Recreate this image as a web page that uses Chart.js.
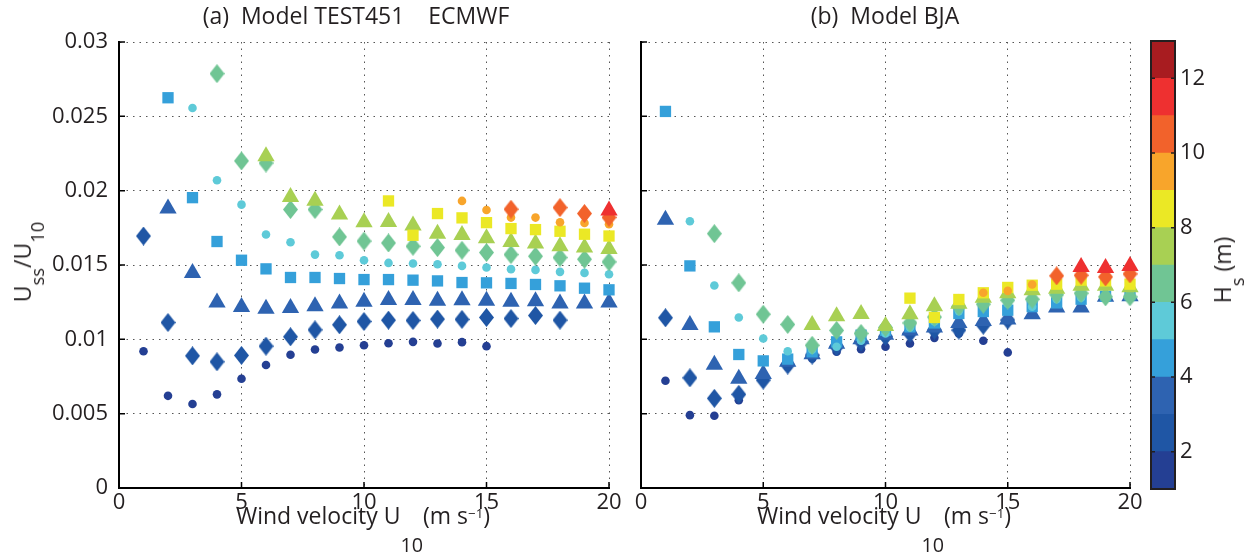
<!DOCTYPE html>
<html>
<head>
<meta charset="utf-8">
<script src="https://cdn.jsdelivr.net/npm/chart.js@4.4.1/dist/chart.umd.min.js"></script>
<style>
  body { margin: 0; background: #fff; }
  #wrap { position: relative; width: 1256px; height: 556px; overflow: hidden; font-family: "Open Sans", sans-serif; color: #231f20; }
  canvas { position: absolute; top: 0; }
  .t { position: absolute; white-space: nowrap; font-size: 23px; line-height: 1; }
  .t sub { font-size: 86%; line-height: 0; }
  .xl sub { vertical-align: -28px; }
  .rot sub { font-size: 80%; vertical-align: -13px; }
  .t sup { font-size: 58%; vertical-align: 6px; line-height: 0; }
  .ctr { transform: translateX(-50%); }
  .rot { transform: translate(-50%, -50%) rotate(-90deg); }
</style>
</head>
<body>
<div id="wrap">
  <canvas id="panelA" width="625" height="556" style="left:0"></canvas>
  <canvas id="panelB" width="540" height="556" style="left:625px"></canvas>
  <canvas id="cbar" width="80" height="556" style="left:1140px"></canvas>

  <div class="t ctr" style="left:356px;top:4px">(a)&nbsp; Model TEST451 &nbsp;&nbsp; ECMWF</div>
  <div class="t ctr" style="left:885px;top:4px">(b)&nbsp; Model BJA</div>
  <div class="t ctr xl" style="left:363px;top:504px">Wind velocity U<sub>10</sub>(m s<sup>&minus;1</sup>)</div>
  <div class="t ctr xl" style="left:884px;top:504px">Wind velocity U<sub>10</sub>(m s<sup>&minus;1</sup>)</div>
  <div class="t rot" style="left:24px;top:262px">U<sub>ss</sub>/U<sub>10</sub></div>
  <div class="t rot" style="left:1224px;top:270px">H<sub>s</sub> (m)</div>
</div>

<script>
// wind speed bins (m/s)
const wind = [1,2,3,4,5,6,7,8,9,10,11,12,13,14,15,16,17,18,19,20];

// Hs classes (m) and their colours, 1-2 m ... 12-13 m
const hsEdges = [1,2,3,4,5,6,7,8,9,10,11,12,13];
const hsColors = ['#243f93','#1f56a5','#2e63b1','#35a0da','#5ecad8','#70c594','#a8d053','#ebe825','#f8a52b','#f2622b','#ee3030','#a81c20'];

const xTicks = [0,5,10,15,20];
const yTicks = [0,0.005,0.01,0.015,0.02,0.025,0.03];
const yTickLabels = ['0','0.005','0.01','0.015','0.02','0.025','0.03'];
const cbTicks = [2,4,6,8,10,12];

const _ = null;

// (a) TEST451 ECMWF, Uss/U10 per Hs class
const ecmwf1  = [0.0092,0.0062,0.00565,0.0063,0.00735,0.00827,0.00896,0.00932,0.00945,0.0096,0.00974,0.00983,0.00972,0.00981,0.00954,_,_,_,_,_];
const ecmwf2  = [0.01695,0.01113,0.00889,0.00849,0.00892,0.00954,0.01017,0.01064,0.01098,0.0112,0.01129,0.01127,0.01136,0.01134,0.01147,0.0114,0.0116,0.01129,_,_];
const ecmwf3  = [_,0.0188,0.01447,0.01248,0.01218,0.01205,0.0121,0.01223,0.01241,0.01252,0.01265,0.01265,0.0126,0.01263,0.0126,0.01252,0.01256,0.01241,0.01241,0.01248];
const ecmwf4  = [_,0.02625,0.01953,0.01658,0.01532,0.01474,0.01416,0.01416,0.01409,0.01402,0.01402,0.01398,0.01393,0.01382,0.0138,0.01376,0.01369,0.0136,0.01344,0.01333];
const ecmwf5  = [_,_,0.02556,0.0207,0.01906,0.01705,0.01653,0.0157,0.01566,0.01532,0.01514,0.0151,0.01505,0.01494,0.01483,0.01472,0.01467,0.01454,0.01447,0.01438];
const ecmwf6  = [_,_,_,0.02787,0.022,0.02186,0.01873,0.01873,0.01689,0.01661,0.01648,0.01626,0.01617,0.01599,0.01584,0.0157,0.01559,0.0155,0.01539,0.01521];
const ecmwf7  = [_,_,_,_,_,0.02231,0.01958,0.01933,0.01839,0.01788,0.0179,0.01765,0.01711,0.01702,0.0168,0.01655,0.01644,0.01626,0.01617,0.01608];
const ecmwf8  = [_,_,_,_,_,_,_,_,_,_,0.01931,0.017,0.01846,0.01817,0.01785,0.01745,0.01738,0.01727,0.01707,0.01695];
const ecmwf9  = [_,_,_,_,_,_,_,_,_,_,_,_,_,0.01931,0.0187,0.01819,0.01819,0.01788,0.01783,0.01774];
const ecmwf10 = [_,_,_,_,_,_,_,_,_,_,_,_,_,_,_,0.01875,_,0.01886,0.01846,0.0182];
const ecmwf11 = [_,_,_,_,_,_,_,_,_,_,_,_,_,_,_,_,_,_,_,0.01866];

// (b) BJA
const bja1  = [0.00721,0.0049,0.00486,0.0059,0.0073,0.00815,0.00871,0.00916,0.00934,0.0095,0.00972,0.0101,0.0104,0.0099,0.00912,_,_,_,_,_];
const bja2  = [0.01145,0.00741,0.00603,0.0063,0.00726,0.00827,0.00894,0.0095,0.00983,0.0102,0.0104,0.01062,0.01062,0.01095,0.0113,_,_,_,_,_];
const bja3  = [0.01805,0.01097,0.00829,0.00735,0.00766,0.0085,0.009,0.0097,0.01,0.0103,0.0106,0.0108,0.0111,0.01124,0.01133,0.01169,0.01214,0.01214,0.01286,0.0129];
const bja4  = [0.02533,0.01494,0.01084,0.00898,0.00855,0.00867,0.00916,0.00983,0.01028,0.0106,0.01084,0.0111,0.01174,0.01187,0.01196,0.0122,0.01245,0.0127,0.0129,0.013];
const bja5  = [_,0.01794,0.01362,0.01147,0.01006,0.0092,0.0093,0.0095,0.0099,0.0104,0.0108,0.0112,0.0119,0.0123,0.0124,0.0122,0.0127,0.0128,0.013,0.0131];
const bja6  = [_,_,0.01711,0.0138,0.01169,0.011,0.0096,0.0106,0.0104,0.0108,0.0111,0.0115,0.0122,0.01236,0.01263,0.0127,0.013,0.0131,0.01286,0.01286];
const bja7  = [_,_,_,_,_,_,0.01097,0.01156,0.01171,0.01089,0.01169,0.01223,0.0124,0.0128,0.0131,0.0133,0.0134,0.0136,0.0136,0.0135];
const bja8  = [_,_,_,_,_,_,_,_,_,_,0.01277,0.01147,0.01268,0.01313,0.01349,0.01364,0.01371,0.01398,0.01393,0.01371];
const bja9  = [_,_,_,_,_,_,_,_,_,_,_,_,_,0.01313,0.01326,0.01369,_,_,_,0.01425];
const bja10 = [_,_,_,_,_,_,_,_,_,_,_,_,_,_,_,_,0.01427,0.01431,0.0142,0.0144];
const bja11 = [_,_,_,_,_,_,_,_,_,_,_,_,_,_,_,_,_,0.01487,0.0148,0.01494];

const ecmwfSeries = [ecmwf1,ecmwf2,ecmwf3,ecmwf4,ecmwf5,ecmwf6,ecmwf7,ecmwf8,ecmwf9,ecmwf10,ecmwf11];
const bjaSeries = [bja1,bja2,bja3,bja4,bja5,bja6,bja7,bja8,bja9,bja10,bja11];

const FONT = '"Open Sans", sans-serif';
const INK = '#231f20';
const shapes = ['circle','diamond','triangle','rect'];
const radii = { circle: 4.3, diamond: 8, triangle: 10, rect: 8 };

// matlab's diamond is a bit taller than wide, so build it as a small sprite
function diamondSprite(color){
  const c = document.createElement('canvas');
  c.width = 15; c.height = 19;
  const g = c.getContext('2d');
  g.fillStyle = color;
  g.beginPath();
  g.moveTo(7.5, 0); g.lineTo(15, 9.5); g.lineTo(7.5, 19); g.lineTo(0, 9.5);
  g.closePath();
  g.fill();
  return c;
}

function makeDatasets(series){
  return series.map((vals, i) => {
    const shape = shapes[i % 4];
    return {
      data: wind.map((w, k) => vals[k] == null ? null : { x: w, y: vals[k] }).filter(Boolean),
      pointStyle: shape === 'diamond' ? diamondSprite(hsColors[i]) : shape,
      pointRadius: radii[shape],
      backgroundColor: hsColors[i],
      borderColor: hsColors[i],
      borderWidth: 0,
      showLine: false,
      clip: false,
      order: series.length - i   // higher Hs on top
    };
  });
}

// short ticks pointing into the plot (matlab style)
const inwardTicks = {
  id: 'inwardTicks',
  afterDraw(chart){
    const { ctx, chartArea: a, scales } = chart;
    ctx.save();
    ctx.strokeStyle = '#000';
    ctx.lineWidth = 1.5;
    ctx.beginPath();
    scales.y.ticks.forEach(t => {
      const p = scales.y.getPixelForValue(t.value);
      ctx.moveTo(a.left, p); ctx.lineTo(a.left + 6, p);
    });
    scales.x.ticks.forEach(t => {
      const p = scales.x.getPixelForValue(t.value);
      ctx.moveTo(p, a.bottom); ctx.lineTo(p, a.bottom - 6);
    });
    ctx.stroke();
    ctx.restore();
  }
};

function panelOptions(showYLabels, yWidth, padRight){
  return {
    responsive: false,
    animation: false,
    events: [],
    layout: { padding: { top: 42, right: padRight, left: 0, bottom: 0 } },
    plugins: { legend: { display: false }, tooltip: { enabled: false } },
    scales: {
      x: {
        type: 'linear', min: 0, max: 20,
        afterBuildTicks: s => { s.ticks = xTicks.map(v => ({ value: v })); },
        afterFit: s => { s.height = 68; },
        grid: { color: '#555', lineWidth: 1, drawTicks: false },
        border: { display: true, color: '#000', width: 2, dash: [1.5, 5] },
        ticks: { padding: 2, color: INK, font: { family: FONT, size: 22 } }
      },
      y: {
        type: 'linear', min: 0, max: 0.03,
        afterBuildTicks: s => { s.ticks = yTicks.map(v => ({ value: v })); },
        afterFit: s => { s.width = yWidth; },
        grid: { color: '#555', lineWidth: 1, drawTicks: false },
        border: { display: true, color: '#000', width: 2, dash: [1.5, 5] },
        ticks: { display: showYLabels, padding: 11, color: INK, font: { family: FONT, size: 22 },
                 callback: (v, i) => yTickLabels[i] }
      }
    }
  };
}

new Chart(document.getElementById('panelA'), {
  type: 'scatter',
  data: { datasets: makeDatasets(ecmwfSeries) },
  options: panelOptions(true, 119, 16),
  plugins: [inwardTicks]
});

new Chart(document.getElementById('panelB'), {
  type: 'scatter',
  data: { datasets: makeDatasets(bjaSeries) },
  options: panelOptions(false, 16, 35),
  plugins: [inwardTicks]
});

// colour bar frame + ticks on both edges
const cbFrame = {
  id: 'cbFrame',
  afterDraw(chart){
    const { ctx, chartArea: a, scales } = chart;
    ctx.save();
    ctx.strokeStyle = '#231f20';
    ctx.lineWidth = 2;
    ctx.strokeRect(a.left, a.top, a.right - a.left, a.bottom - a.top);
    ctx.lineWidth = 1.5;
    ctx.beginPath();
    scales.y.ticks.forEach(t => {
      const p = scales.y.getPixelForValue(t.value);
      ctx.moveTo(a.left, p); ctx.lineTo(a.left + 4, p);
      ctx.moveTo(a.right, p); ctx.lineTo(a.right - 4, p);
    });
    ctx.stroke();
    ctx.restore();
  }
};

new Chart(document.getElementById('cbar'), {
  type: 'bar',
  data: {
    labels: [''],
    datasets: hsColors.map((c, i) => ({
      data: [[hsEdges[i], hsEdges[i + 1]]],
      backgroundColor: c,
      borderWidth: 0,
      grouped: false,
      barPercentage: 1,
      categoryPercentage: 1
    }))
  },
  options: {
    responsive: false,
    animation: false,
    events: [],
    layout: { padding: { left: 11, top: 41, right: 0, bottom: 67 } },
    plugins: { legend: { display: false }, tooltip: { enabled: false } },
    scales: {
      x: { display: false },
      y: {
        position: 'right', min: 1, max: 13,
        afterBuildTicks: s => { s.ticks = cbTicks.map(v => ({ value: v })); },
        afterFit: s => { s.width = 45; },
        grid: { display: false, drawTicks: false },
        border: { display: false },
        ticks: { padding: 5, color: INK, font: { family: FONT, size: 22 } }
      }
    }
  },
  plugins: [cbFrame]
});
</script>
</body>
</html>
